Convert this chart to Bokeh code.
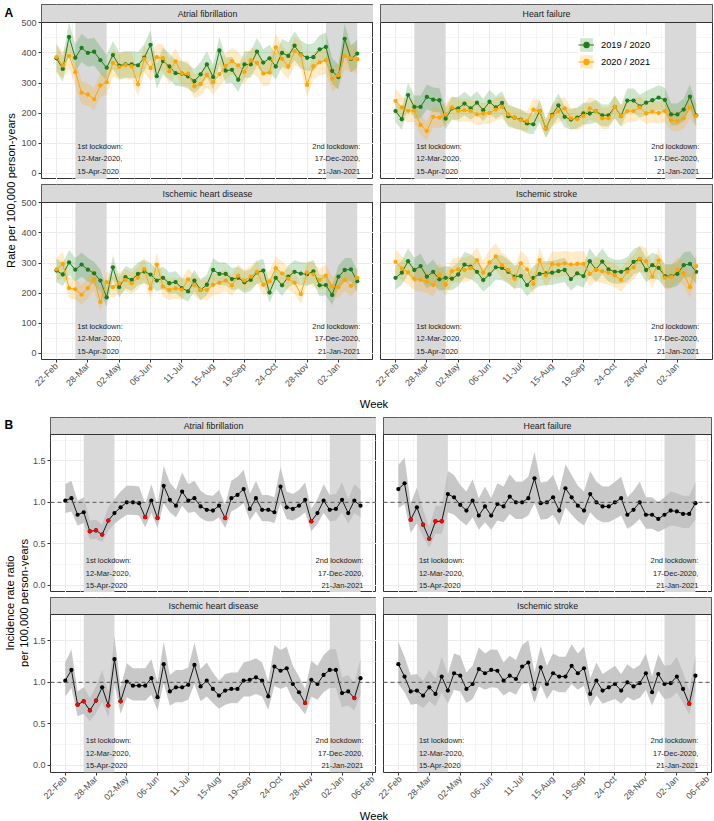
import math
from bokeh.plotting import figure
from bokeh.models import (Range1d, LinearAxis, FixedTicker, Grid, Span, Legend,
                          LegendItem, ColumnDataSource)
from bokeh.layouts import row, column
from bokeh.embed import file_html
from bokeh.resources import INLINE
from bokeh.core.properties import value

FONT = "Liberation Sans"

# ---------------- data ----------------
weeks = list(range(49))
x_ticks_a = [0, 5, 10, 15, 20, 25, 30, 35, 40, 45]
x_ticks_b = [0, 5, 10, 15, 20, 25, 30, 35, 40, 45, 50]
x_tick_labels = ["22-Feb", "28-Mar", "02-May", "06-Jun", "11-Jul", "15-Aug",
                 "19-Sep", "24-Oct", "28-Nov", "02-Jan", "06-Feb"]
x_minor = [2.5, 7.5, 12.5, 17.5, 22.5, 27.5, 32.5, 37.5, 42.5, 47.5]

rate_ticks = [0, 100, 200, 300, 400, 500]
rate_tick_labels = ["0", "100", "200", "300", "400", "500"]
rate_minor = [50, 150, 250, 350, 450]
irr_ticks = [0.0, 0.5, 1.0, 1.5]
irr_tick_labels = ["0.0", "0.5", "1.0", "1.5"]
irr_minor = [0.25, 0.75, 1.25, 1.75]

lockdown_start = [3, 43]
lockdown_end = [8, 48]
lockdown_labels = ["1st lockdown:\n12-Mar-2020,\n15-Apr-2020",
                   "2nd lockdown:\n17-Dec-2020,\n21-Jan-2021"]
conditions = ["Atrial fibrillation", "Heart failure",
              "Ischemic heart disease", "Ischemic stroke"]
season_labels = ["2019 / 2020", "2020 / 2021"]

# Panel A: weekly rates per 100,000 person-years and CI half-widths
rate_af_1920 = [382, 347, 453, 384, 417, 400, 404, 376, 351, 393, 358, 362, 362, 359, 384, 427, 323, 373, 355, 333,
                331, 322, 306, 329, 362, 320, 408, 341, 344, 311, 362, 362, 404, 368, 382, 355, 400, 390, 424, 395,
                384, 386, 412, 420, 340, 320, 447, 380, 398]
hw_af_1920 = [45, 43, 49, 45, 47, 46, 46, 45, 43, 46, 44, 44, 44, 44, 45, 48, 41, 45, 43, 42,
              42, 41, 40, 42, 44, 41, 46, 43, 43, 41, 44, 44, 46, 44, 45, 43, 46, 45, 48, 46,
              45, 45, 47, 47, 43, 41, 49, 45, 46]
rate_af_2021 = [386, 358, 390, 336, 268, 262, 247, 292, 303, 367, 353, 360, 356, 296, 380, 350, 386, 383, 339, 372,
                332, 331, 289, 297, 327, 303, 330, 357, 373, 359, 337, 375, 367, 332, 335, 418, 380, 355, 406, 393,
                294, 356, 369, 376, 314, 326, 390, 382, 379]
hw_af_2021 = [45, 44, 45, 42, 38, 37, 36, 39, 40, 44, 43, 44, 44, 40, 45, 43, 45, 45, 42, 44,
              42, 42, 39, 40, 42, 40, 42, 44, 44, 44, 42, 44, 44, 42, 42, 47, 45, 43, 46, 46,
              40, 44, 44, 45, 41, 41, 45, 45, 45]

rate_hf_1920 = [207, 180, 260, 221, 221, 254, 245, 243, 182, 216, 216, 232, 216, 235, 210, 238, 219, 234, 190, 185,
                179, 166, 163, 207, 149, 194, 226, 188, 179, 185, 199, 199, 207, 193, 193, 221, 191, 242, 242, 223,
                235, 243, 252, 244, 196, 196, 212, 255, 193]
hw_hf_1920 = [37, 35, 41, 38, 38, 41, 40, 40, 35, 38, 38, 39, 38, 39, 37, 40, 38, 39, 36, 35,
              34, 33, 33, 37, 31, 36, 39, 35, 34, 35, 36, 36, 37, 36, 36, 38, 36, 40, 40, 38,
              39, 40, 41, 40, 36, 36, 37, 41, 36]
rate_hf_2021 = [241, 219, 208, 208, 161, 141, 188, 185, 196, 219, 208, 210, 208, 196, 199, 201, 212, 221, 196, 185,
                177, 174, 212, 207, 149, 191, 207, 216, 183, 180, 191, 216, 207, 183, 183, 221, 191, 207, 207, 219,
                199, 205, 201, 207, 177, 174, 183, 219, 191]
hw_hf_2021 = [40, 38, 37, 37, 33, 31, 35, 35, 36, 38, 37, 37, 37, 36, 36, 36, 37, 38, 36, 35,
              34, 34, 37, 37, 31, 36, 37, 38, 35, 35, 36, 38, 37, 35, 35, 38, 36, 37, 37, 38,
              36, 37, 36, 37, 34, 34, 35, 38, 36]

rate_ihd_1920 = [275, 262, 302, 278, 295, 278, 266, 242, 186, 286, 220, 253, 244, 264, 272, 262, 242, 251, 233, 237,
                 217, 206, 242, 211, 228, 277, 264, 264, 247, 251, 236, 244, 269, 275, 202, 251, 226, 255, 271, 265,
                 263, 272, 226, 227, 194, 255, 277, 279, 240]
hw_ihd_1920 = [39, 38, 41, 39, 40, 39, 38, 36, 32, 40, 35, 37, 37, 38, 39, 38, 36, 37, 36, 36,
               34, 34, 36, 34, 35, 39, 38, 38, 37, 37, 36, 37, 38, 39, 33, 37, 35, 37, 38, 38,
               38, 39, 35, 35, 33, 37, 39, 39, 36]
rate_ihd_2021 = [279, 297, 217, 213, 195, 217, 247, 171, 237, 220, 233, 244, 233, 251, 280, 215, 295, 222, 211, 216,
                 212, 246, 226, 211, 211, 228, 235, 242, 226, 258, 242, 255, 271, 228, 239, 283, 266, 248, 235, 197,
                 269, 262, 244, 258, 222, 220, 244, 224, 251]
hw_ihd_2021 = [39, 40, 34, 34, 33, 34, 37, 31, 36, 35, 36, 37, 36, 37, 39, 34, 40, 35, 34, 34,
               34, 37, 35, 34, 34, 35, 36, 36, 35, 38, 36, 37, 38, 35, 36, 39, 38, 37, 36, 33,
               38, 38, 37, 38, 35, 35, 37, 35, 37]

rate_is_1920 = [251, 268, 306, 277, 290, 255, 271, 246, 251, 248, 262, 295, 288, 271, 244, 262, 286, 284, 271, 255,
                257, 227, 251, 264, 266, 268, 273, 277, 247, 266, 257, 306, 279, 305, 279, 271, 271, 279, 304, 313,
                277, 293, 284, 257, 257, 264, 293, 297, 271]
hw_is_1920 = [39, 40, 43, 41, 41, 39, 40, 38, 39, 38, 39, 42, 41, 40, 38, 39, 41, 41, 40, 39,
              39, 37, 39, 40, 40, 40, 40, 41, 38, 40, 39, 43, 41, 43, 41, 40, 40, 41, 42, 43,
              41, 42, 41, 39, 39, 40, 42, 42, 40]
rate_is_2021 = [304, 282, 269, 248, 244, 239, 227, 262, 228, 273, 279, 277, 283, 310, 268, 302, 322, 293, 277, 248,
                299, 279, 231, 310, 259, 297, 295, 299, 295, 297, 297, 264, 279, 273, 268, 259, 244, 271, 286, 315,
                306, 255, 309, 251, 255, 279, 266, 220, 290]
hw_is_2021 = [42, 41, 40, 38, 38, 38, 37, 39, 37, 40, 41, 41, 41, 43, 40, 42, 44, 42, 41, 38,
              42, 41, 37, 43, 39, 42, 42, 42, 42, 42, 42, 40, 41, 40, 40, 39, 38, 40, 41, 43,
              43, 39, 43, 39, 39, 41, 40, 36, 41]

# Panel B: incidence rate ratios with confidence limits
irr_af = [1.02, 1.05, 0.85, 0.88, 0.65, 0.66, 0.61, 0.78, 0.87, 0.94, 1.00, 1.00, 0.99, 0.82, 1.02, 0.81, 1.20, 1.03,
          0.96, 1.13, 1.02, 1.05, 0.95, 0.91, 0.90, 0.96, 0.81, 1.05, 1.09, 1.16, 0.92, 1.05, 0.91, 0.91, 0.88, 1.19,
          0.94, 0.92, 0.96, 1.03, 0.77, 0.87, 1.02, 0.91, 0.92, 1.03, 0.87, 1.02, 0.96]
irr_af_lo = [0.87, 0.89, 0.72, 0.75, 0.55, 0.56, 0.52, 0.66, 0.74, 0.80, 0.85, 0.85, 0.84, 0.70, 0.87, 0.69, 0.99, 0.88,
             0.82, 0.96, 0.87, 0.89, 0.81, 0.77, 0.77, 0.82, 0.69, 0.89, 0.93, 0.99, 0.78, 0.89, 0.77, 0.77, 0.75, 0.99,
             0.80, 0.78, 0.82, 0.88, 0.65, 0.74, 0.87, 0.77, 0.78, 0.88, 0.74, 0.87, 0.82]
irr_af_hi = [1.22, 1.26, 1.02, 1.06, 0.78, 0.79, 0.73, 0.94, 1.04, 1.13, 1.20, 1.20, 1.19, 0.98, 1.22, 0.97, 1.44, 1.24,
             1.15, 1.36, 1.22, 1.26, 1.14, 1.09, 1.08, 1.15, 0.97, 1.26, 1.31, 1.39, 1.10, 1.26, 1.09, 1.09, 1.06, 1.43,
             1.13, 1.10, 1.15, 1.24, 0.92, 1.04, 1.22, 1.09, 1.10, 1.24, 1.04, 1.22, 1.15]

irr_hf = [1.16, 1.23, 0.79, 0.94, 0.73, 0.56, 0.77, 0.77, 1.10, 1.06, 0.97, 0.90, 1.02, 0.84, 0.95, 0.84, 0.98, 0.95,
          1.07, 1.00, 1.00, 1.05, 1.29, 0.99, 1.00, 1.06, 0.90, 1.17, 1.06, 0.96, 0.90, 1.10, 1.00, 0.95, 0.95, 1.00,
          1.05, 0.85, 0.91, 1.00, 0.85, 0.85, 0.80, 0.85, 0.90, 0.89, 0.86, 0.86, 0.99]
irr_hf_lo = [0.93, 0.98, 0.63, 0.75, 0.58, 0.45, 0.62, 0.62, 0.88, 0.85, 0.78, 0.72, 0.82, 0.67, 0.76, 0.67, 0.78, 0.76,
             0.86, 0.80, 0.80, 0.84, 0.99, 0.79, 0.80, 0.85, 0.72, 0.94, 0.85, 0.77, 0.72, 0.88, 0.80, 0.76, 0.76, 0.80,
             0.84, 0.68, 0.73, 0.80, 0.68, 0.68, 0.64, 0.68, 0.72, 0.71, 0.69, 0.69, 0.79]
irr_hf_hi = [1.45, 1.54, 0.99, 1.18, 0.91, 0.70, 0.96, 0.96, 1.38, 1.33, 1.21, 1.13, 1.28, 1.05, 1.19, 1.05, 1.23, 1.19,
             1.34, 1.25, 1.25, 1.31, 1.61, 1.24, 1.25, 1.33, 1.13, 1.46, 1.33, 1.20, 1.13, 1.38, 1.25, 1.19, 1.19, 1.25,
             1.31, 1.06, 1.14, 1.25, 1.06, 1.06, 1.00, 1.06, 1.13, 1.11, 1.08, 1.08, 1.24]

irr_ihd = [1.02, 1.15, 0.73, 0.77, 0.66, 0.78, 0.94, 0.72, 1.28, 0.77, 1.01, 0.96, 0.96, 0.96, 1.05, 0.82, 1.22, 0.89,
           0.94, 0.94, 0.97, 1.21, 0.95, 1.02, 0.92, 0.84, 0.90, 0.92, 0.92, 1.02, 1.03, 1.06, 1.02, 0.83, 1.19, 1.14,
           1.17, 0.98, 0.88, 0.75, 1.03, 0.98, 1.09, 1.15, 1.15, 0.87, 0.89, 0.81, 1.05]
irr_ihd_lo = [0.83, 0.93, 0.59, 0.62, 0.53, 0.63, 0.76, 0.58, 0.98, 0.62, 0.82, 0.78, 0.78, 0.78, 0.85, 0.66, 0.99, 0.72,
              0.76, 0.76, 0.79, 0.98, 0.77, 0.83, 0.75, 0.68, 0.73, 0.75, 0.75, 0.83, 0.83, 0.86, 0.83, 0.67, 0.96, 0.92,
              0.95, 0.79, 0.71, 0.61, 0.83, 0.79, 0.88, 0.93, 0.93, 0.70, 0.72, 0.66, 0.85]
irr_ihd_hi = [1.24, 1.40, 0.89, 0.94, 0.81, 0.95, 1.15, 0.88, 1.56, 0.94, 1.23, 1.17, 1.17, 1.17, 1.28, 1.00, 1.49, 1.09,
              1.15, 1.15, 1.18, 1.48, 1.16, 1.24, 1.12, 1.02, 1.10, 1.12, 1.12, 1.24, 1.26, 1.29, 1.24, 1.01, 1.45, 1.39,
              1.43, 1.20, 1.07, 0.92, 1.26, 1.20, 1.33, 1.40, 1.40, 1.06, 1.09, 0.99, 1.28]

irr_is = [1.22, 1.07, 0.89, 0.90, 0.84, 0.94, 0.86, 1.07, 0.90, 1.11, 1.08, 0.92, 0.98, 1.16, 1.11, 1.15, 1.14, 1.02,
          1.08, 1.04, 1.19, 1.24, 0.92, 1.18, 0.98, 1.11, 1.07, 1.07, 1.20, 1.11, 1.17, 0.86, 1.02, 0.90, 0.94, 0.98,
          0.90, 1.00, 0.95, 0.99, 1.11, 0.88, 1.10, 0.98, 0.99, 1.07, 0.92, 0.74, 1.08]
irr_is_lo = [0.98, 0.88, 0.73, 0.74, 0.69, 0.77, 0.71, 0.88, 0.74, 0.91, 0.89, 0.75, 0.80, 0.95, 0.91, 0.94, 0.93, 0.84,
             0.89, 0.85, 0.98, 0.99, 0.75, 0.97, 0.80, 0.91, 0.88, 0.88, 0.98, 0.91, 0.96, 0.71, 0.84, 0.74, 0.77, 0.80,
             0.74, 0.82, 0.78, 0.81, 0.91, 0.72, 0.90, 0.80, 0.81, 0.88, 0.75, 0.61, 0.89]
irr_is_hi = [1.49, 1.31, 1.09, 1.10, 1.02, 1.15, 1.05, 1.31, 1.10, 1.35, 1.32, 1.12, 1.20, 1.42, 1.35, 1.40, 1.39, 1.24,
             1.32, 1.27, 1.45, 1.51, 1.12, 1.44, 1.20, 1.35, 1.31, 1.31, 1.46, 1.35, 1.43, 1.05, 1.24, 1.10, 1.15, 1.20,
             1.10, 1.22, 1.16, 1.21, 1.35, 1.07, 1.34, 1.20, 1.21, 1.31, 1.12, 0.90, 1.32]

# ---------------- styling / geometry ----------------
GREEN = "#1E7B1E"
GREEN_FILL = "#228B22"
ORANGE = "#FFA500"
GRID = "#EBEBEB"
BORDER = "#333333"
STRIP_FILL = "#D9D9D9"
SHADE = "#D9D9D9"
XR = (-2.4, 50.6)
RATE_LIM = (-20, 501)
IRR_LIM = (-0.09, 1.82)


def facet(title, ylim, strip_px, panel_px, frame_w, ml, mr, mt, mb,
          yticks, ylabels, yminor, xticks, show_left, show_bottom):
    ylo, yhi = ylim
    ytop = yhi + strip_px * (yhi - ylo) / panel_px
    p = figure(frame_width=frame_w, frame_height=strip_px + panel_px,
               x_range=Range1d(*XR), y_range=Range1d(ylo, ytop),
               x_axis_location=None, y_axis_location=None,
               toolbar_location=None, tools="", output_backend="svg",
               min_border_left=ml, min_border_right=mr,
               min_border_top=mt, min_border_bottom=mb,
               outline_line_color=BORDER, outline_line_width=1,
               background_fill_color="white", border_fill_color="white")
    p.center = [c for c in p.center if not isinstance(c, Grid)]
    p.add_layout(Grid(dimension=0, ticker=FixedTicker(ticks=xticks, minor_ticks=x_minor),
                      grid_line_color=GRID, grid_line_width=1,
                      minor_grid_line_color=GRID, minor_grid_line_width=0.5), "center")
    p.add_layout(Grid(dimension=1, ticker=FixedTicker(ticks=yticks, minor_ticks=yminor),
                      grid_line_color=GRID, grid_line_width=1,
                      minor_grid_line_color=GRID, minor_grid_line_width=0.5), "center")
    p.quad(left=lockdown_start, right=lockdown_end, bottom=[ylo, ylo], top=[yhi, yhi],
           fill_color=SHADE, line_color=None)
    if show_left:
        ax = LinearAxis(ticker=FixedTicker(ticks=yticks, minor_ticks=[]),
                        major_label_overrides={t: l for t, l in zip(yticks, ylabels)},
                        axis_line_color=None, major_tick_line_color=BORDER,
                        major_tick_out=3, major_tick_in=0, minor_tick_line_color=None,
                        major_label_text_font=FONT, major_label_text_font_size="9px",
                        major_label_text_color="#4D4D4D", major_label_standoff=2)
        p.add_layout(ax, "left")
    if show_bottom:
        bx = LinearAxis(ticker=FixedTicker(ticks=xticks, minor_ticks=[]),
                        major_label_overrides={t: x_tick_labels[i] for i, t in enumerate(xticks)},
                        major_label_orientation=math.pi / 4,
                        axis_line_color=None, major_tick_line_color=BORDER,
                        major_tick_out=3, major_tick_in=0, minor_tick_line_color=None,
                        major_label_text_font=FONT, major_label_text_font_size="9px",
                        major_label_text_color="#4D4D4D", major_label_standoff=2)
        p.add_layout(bx, "below")
    return p, ylo, yhi, ytop


def finish(p, title, ylo, yhi, ytop, text_dy):
    # lockdown annotations
    p.text(x=[lockdown_start[0]], y=[0], text=[lockdown_labels[0]], x_offset=2, y_offset=text_dy,
           text_align="left", text_baseline="middle", text_font=value(FONT),
           text_font_size=value("7.5px"), text_color="#222222", text_line_height=1.35)
    p.text(x=[lockdown_end[1]], y=[0], text=[lockdown_labels[1]], x_offset=3, y_offset=text_dy,
           text_align="right", text_baseline="middle", text_font=value(FONT),
           text_font_size=value("7.5px"), text_color="#222222", text_line_height=1.35)
    # facet strip
    p.quad(left=[XR[0]], right=[XR[1]], bottom=[yhi], top=[ytop],
           fill_color=STRIP_FILL, line_color=None)
    p.add_layout(Span(location=yhi, dimension="width", line_color=BORDER, line_width=1))
    p.text(x=[(XR[0] + XR[1]) / 2], y=[(yhi + ytop) / 2], text=[title],
           text_align="center", text_baseline="middle", text_font=value(FONT),
           text_font_size=value("8.8px"), text_color="#1A1A1A")


rate_data = [(rate_af_1920, hw_af_1920, rate_af_2021, hw_af_2021),
             (rate_hf_1920, hw_hf_1920, rate_hf_2021, hw_hf_2021),
             (rate_ihd_1920, hw_ihd_1920, rate_ihd_2021, hw_ihd_2021),
             (rate_is_1920, hw_is_1920, rate_is_2021, hw_is_2021)]
irr_data = [(irr_af, irr_af_lo, irr_af_hi), (irr_hf, irr_hf_lo, irr_hf_hi),
            (irr_ihd, irr_ihd_lo, irr_ihd_hi), (irr_is, irr_is_lo, irr_is_hi)]

# ---------------- panel A ----------------
A_figs = []
for i, cond in enumerate(conditions):
    r, c = divmod(i, 2)
    left = c == 0
    bottom = r == 1
    p, ylo, yhi, ytop = facet(cond, RATE_LIM, 18, 157, 332,
                              20 if left else 7, 0 if left else 5,
                              4 if r == 0 else 5, 36 if bottom else 0,
                              rate_ticks, rate_tick_labels, rate_minor, x_ticks_a, left, bottom)
    v1, h1, v2, h2 = rate_data[i]
    s1 = ColumnDataSource(dict(x=weeks, y=v1, lo=[a - b for a, b in zip(v1, h1)],
                               hi=[a + b for a, b in zip(v1, h1)]))
    s2 = ColumnDataSource(dict(x=weeks, y=v2, lo=[a - b for a, b in zip(v2, h2)],
                               hi=[a + b for a, b in zip(v2, h2)]))
    b1 = p.varea(x="x", y1="lo", y2="hi", source=s1, fill_color=GREEN_FILL, fill_alpha=0.22)
    b2 = p.varea(x="x", y1="lo", y2="hi", source=s2, fill_color=ORANGE, fill_alpha=0.22)
    l1 = p.line(x="x", y="y", source=s1, line_color=GREEN, line_width=1)
    m1 = p.scatter(x="x", y="y", source=s1, size=4.3, fill_color=GREEN, line_color=None)
    l2 = p.line(x="x", y="y", source=s2, line_color=ORANGE, line_width=1)
    m2 = p.scatter(x="x", y="y", source=s2, size=4.3, fill_color=ORANGE, line_color=None)
    finish(p, cond, ylo, yhi, ytop, -14.5)
    if i == 1:
        leg = Legend(items=[LegendItem(label=season_labels[0], renderers=[b1, l1, m1]),
                            LegendItem(label=season_labels[1], renderers=[b2, l2, m2])],
                     location=(198, 109), orientation="vertical",
                     glyph_width=16, glyph_height=17, label_height=17, spacing=0,
                     padding=3, margin=0, label_standoff=7,
                     label_text_font=FONT, label_text_font_size="9.3px",
                     label_text_color="#000000", border_line_color=None,
                     background_fill_color="white", background_fill_alpha=1)
        p.add_layout(leg, "center")
    A_figs.append(p)

# ---------------- panel B ----------------
B_figs = []
for i, cond in enumerate(conditions):
    r, c = divmod(i, 2)
    left = c == 0
    bottom = r == 1
    p, ylo, yhi, ytop = facet(cond, IRR_LIM, 17, 158, 326 if left else 328,
                              19 if left else 7, 0 if left else 5,
                              4 if r == 0 else 5, 33 if bottom else 0,
                              irr_ticks, irr_tick_labels, irr_minor, x_ticks_b, left, bottom)
    v, lo, hi = irr_data[i]
    src = ColumnDataSource(dict(x=weeks, y=v, lo=lo, hi=hi))
    p.varea(x="x", y1="lo", y2="hi", source=src, fill_color="#BEBEBE", fill_alpha=0.85)
    p.add_layout(Span(location=1.0, dimension="width", line_color="#555555",
                      line_width=1, line_dash="4 3"))
    p.line(x="x", y="y", source=src, line_color="black", line_width=0.9)
    p.scatter(x="x", y="y", source=src, size=4.2, fill_color="black", line_color=None)
    sig_x = [w for w, a, b in zip(weeks, lo, hi) if b < 1 or a > 1]
    sig_y = [y for y, a, b in zip(v, lo, hi) if b < 1 or a > 1]
    p.scatter(x=sig_x, y=sig_y, size=4.2, fill_color="#FF0000", line_color=None)
    finish(p, cond, ylo, yhi, ytop, -12)
    B_figs.append(p)


# ---------------- titles ----------------
def text_fig(w, h):
    p = figure(frame_width=w, frame_height=h, x_range=Range1d(0, w), y_range=Range1d(0, h),
               x_axis_location=None, y_axis_location=None, toolbar_location=None, tools="",
               output_backend="svg", min_border=0, min_border_left=0, min_border_right=0,
               min_border_top=0, min_border_bottom=0, outline_line_color=None,
               background_fill_color="white", border_fill_color="white")
    p.center = [c for c in p.center if not isinstance(c, Grid)]
    return p


tA = text_fig(18, 395)
tA.text(x=[4], y=[383], text=["A"], text_align="left", text_baseline="alphabetic",
        text_font=value(FONT), text_font_size=value("12px"), text_font_style="bold", text_color="black")
tA.text(x=[10], y=[205], text=["Rate per 100,000 person-years"], angle=math.pi / 2,
        text_align="center", text_baseline="middle", text_font=value(FONT),
        text_font_size=value("11.2px"), text_color="black")
wA = text_fig(714, 18)
wA.text(x=[373.5], y=[10], text=["Week"], text_align="center", text_baseline="middle",
        text_font=value(FONT), text_font_size=value("11.2px"), text_color="black")

tB = text_fig(29, 392)
tB.text(x=[4], y=[381], text=["B"], text_align="left", text_baseline="alphabetic",
        text_font=value(FONT), text_font_size=value("12px"), text_font_style="bold", text_color="black")
tB.text(x=[16.5], y=[202.5], text=["Incidence rate ratio\nper 100,000 person-years"], angle=math.pi / 2,
        text_align="center", text_baseline="middle", text_font=value(FONT),
        text_font_size=value("11.2px"), text_color="black", text_line_height=1.1)
wB = text_fig(714, 16)
wB.text(x=[373.5], y=[9], text=["Week"], text_align="center", text_baseline="middle",
        text_font=value(FONT), text_font_size=value("11.2px"), text_color="black")

gridA = column(row(A_figs[0], A_figs[1], spacing=0), row(A_figs[2], A_figs[3], spacing=0), spacing=0)
gridB = column(row(B_figs[0], B_figs[1], spacing=0), row(B_figs[2], B_figs[3], spacing=0), spacing=0)
blockA = column(row(tA, gridA, spacing=0), wA, spacing=0)
blockB = column(row(tB, gridB, spacing=0), wB, spacing=0)
root = column(blockA, blockB, spacing=0,
              styles={"position": "absolute", "left": "0px", "top": "0px"})

open("out.html", "w").write(file_html(root, INLINE))
